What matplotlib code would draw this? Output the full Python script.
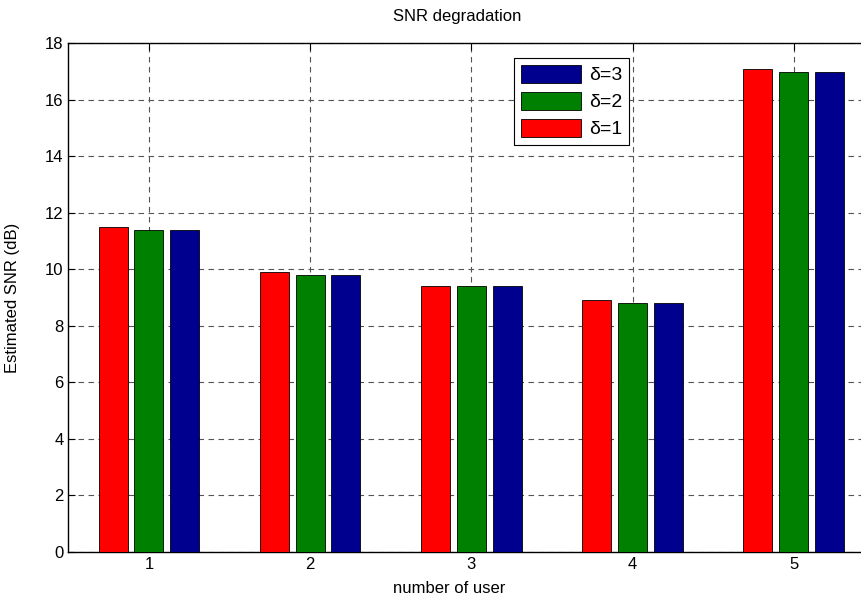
import numpy as np
import matplotlib
matplotlib.use("Agg")
import matplotlib.pyplot as plt

# data
users = [1, 2, 3, 4, 5]
snr_d1 = [11.5, 9.9, 9.4, 8.9, 17.1]
snr_d2 = [11.4, 9.8, 9.4, 8.8, 17.0]
snr_d3 = [11.4, 9.8, 9.4, 8.8, 17.0]
labels = ["δ=1", "δ=2", "δ=3"]
colors = ["#ff0000", "#008000", "#00008f"]

plt.rcParams['font.family'] = ['Liberation Sans', 'DejaVu Sans']
plt.rcParams['font.size'] = 12

fig = plt.figure(figsize=(8.62, 6.03), dpi=100)
# axes runs slightly past the right edge, like the cropped original
ax = fig.add_axes([68.3 / 862, 51.3 / 603, 806 / 862, 508.4 / 603])

x = np.array(users, dtype=float)
width = 0.18
offsets = [-0.2222, 0.0, 0.2222]
bars = []
for series, off, col, lab in zip([snr_d1, snr_d2, snr_d3], offsets, colors, labels):
    b = ax.bar(x + off, series, width, color=col, edgecolor='black', linewidth=0.6,
               label=lab, zorder=3)
    bars.append(b)

ax.set_xlim(0.5, 5.5)
ax.set_ylim(0, 18)
ax.set_xticks(users)
ax.set_yticks(np.arange(0, 19, 2))

ax.grid(True, color='#555555', linestyle=(0, (5, 4)), linewidth=0.8, zorder=0)
ax.tick_params(direction='in', length=5, top=True, right=True, colors='black',
               labelsize=12, width=0.8)
for s in ax.spines.values():
    s.set_linewidth(1.0)

ax.set_xlabel("number of user", fontsize=12)
ax.xaxis.set_label_coords(0.473, -0.058)
ax.set_ylabel("Estimated SNR (dB)", fontsize=12)
ax.yaxis.set_label_coords(-0.06, 0.5)
fig.text(457 / 862, 1 - 17 / 603, "SNR degradation", ha='center', va='center', fontsize=12)

handles = [bars[2], bars[1], bars[0]]
leg = ax.legend(handles, [labels[2], labels[1], labels[0]], loc='upper left',
                bbox_to_anchor=((514 - 68.3) / 806, (551.7 - 57.7) / 508.4),
                borderaxespad=0, frameon=True, fancybox=False, edgecolor='black',
                framealpha=1, handlelength=3.1, handleheight=1.05, borderpad=0.35,
                labelspacing=0.38, handletextpad=0.4, fontsize=14)
leg.get_frame().set_linewidth(0.8)

fig.savefig("out.png", dpi=100)
